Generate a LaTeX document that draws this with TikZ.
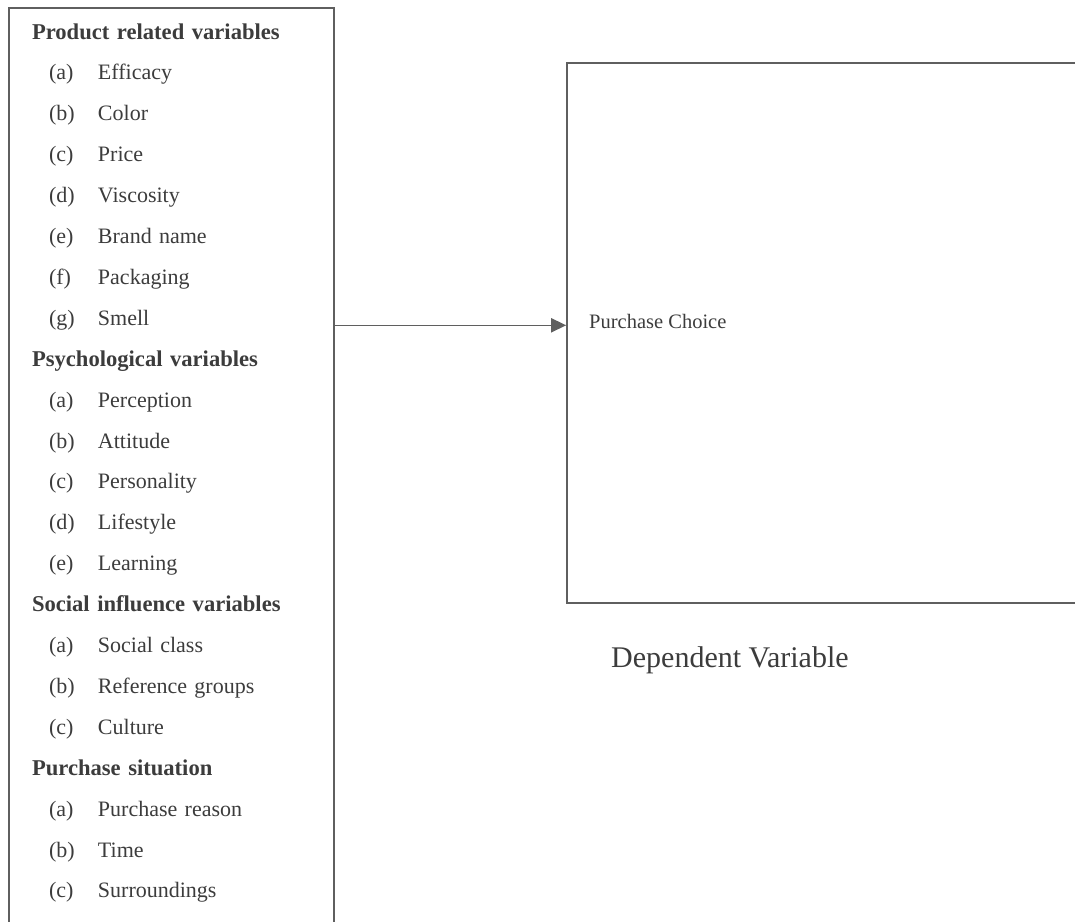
\documentclass[tikz,border=0pt]{standalone}
\usepackage{fontspec}
\setmainfont{Liberation Serif}
\usetikzlibrary{arrows.meta,positioning}
\definecolor{inkgray}{RGB}{60,60,60}
\definecolor{rulegray}{RGB}{95,95,95}
\newcommand{\itm}[2]{\hspace*{17pt}\makebox[49pt][l]{(#1)}#2}

\begin{document}
\begin{tikzpicture}[x=1pt,y=-1pt,
          line/.style={text width=290pt, align=left, inner sep=0pt,
                       text height=16pt, text depth=5pt,
                       font=\fontsize{22}{26}\selectfont, text=inkgray},
          head/.style={line, font=\fontsize{22.6}{26}\selectfont\bfseries},
          frame/.style={draw=rulegray, line width=1.6pt, inner sep=0pt},
          arr/.style={-{Triangle[length=15pt, width=14pt]}, line width=1.6pt, rulegray},
          node distance=19.5pt
        ]
          \useasboundingbox (0,0) rectangle (1075,921);
          \clip (0,0) rectangle (1075,921);
          % boxes
          \node[frame, minimum width=325pt, minimum height=940pt] (indep) at (171.5,478) {};
          \node[frame, minimum width=540pt, minimum height=540pt] (dep) at (837,333) {};
          % product related
          \node[head] (prod) at (177,33.5) {Product related variables};
          \node[line, below=of prod] (prodA) {\itm{a}{Efficacy}};
          \node[line, below=of prodA] (prodB) {\itm{b}{Color}};
          \node[line, below=of prodB] (prodC) {\itm{c}{Price}};
          \node[line, below=of prodC] (prodD) {\itm{d}{Viscosity}};
          \node[line, below=of prodD] (prodE) {\itm{e}{Brand name}};
          \node[line, below=of prodE] (prodF) {\itm{f}{Packaging}};
          \node[line, below=of prodF] (prodG) {\itm{g}{Smell}};
          % psychological
          \node[head, below=of prodG] (psy) {Psychological variables};
          \node[line, below=of psy] (psyA) {\itm{a}{Perception}};
          \node[line, below=of psyA] (psyB) {\itm{b}{Attitude}};
          \node[line, below=of psyB] (psyC) {\itm{c}{Personality}};
          \node[line, below=of psyC] (psyD) {\itm{d}{Lifestyle}};
          \node[line, below=of psyD] (psyE) {\itm{e}{Learning}};
          % social influence
          \node[head, below=of psyE] (soc) {Social influence variables};
          \node[line, below=of soc] (socA) {\itm{a}{Social class}};
          \node[line, below=of socA] (socB) {\itm{b}{Reference groups}};
          \node[line, below=of socB] (socC) {\itm{c}{Culture}};
          % purchase situation
          \node[head, below=of socC] (sit) {Purchase situation};
          \node[line, below=of sit] (sitA) {\itm{a}{Purchase reason}};
          \node[line, below=of sitA] (sitB) {\itm{b}{Time}};
          \node[line, below=of sitB] (sitC) {\itm{c}{Surroundings}};
          % dependent side
          \node[anchor=base west, inner sep=0pt, text=inkgray,
                font=\fontsize{20.5}{24}\selectfont] (choice) at (589,328) {Purchase Choice};
          \node[anchor=base west, inner sep=0pt, text=inkgray,
                font=\fontsize{30}{36}\selectfont] (deplab) at (611,667) {Dependent Variable};
          \draw[arr] (indep.east |- prodG.base) -- (dep.west |- prodG.base);
        \end{tikzpicture}
\end{document}
